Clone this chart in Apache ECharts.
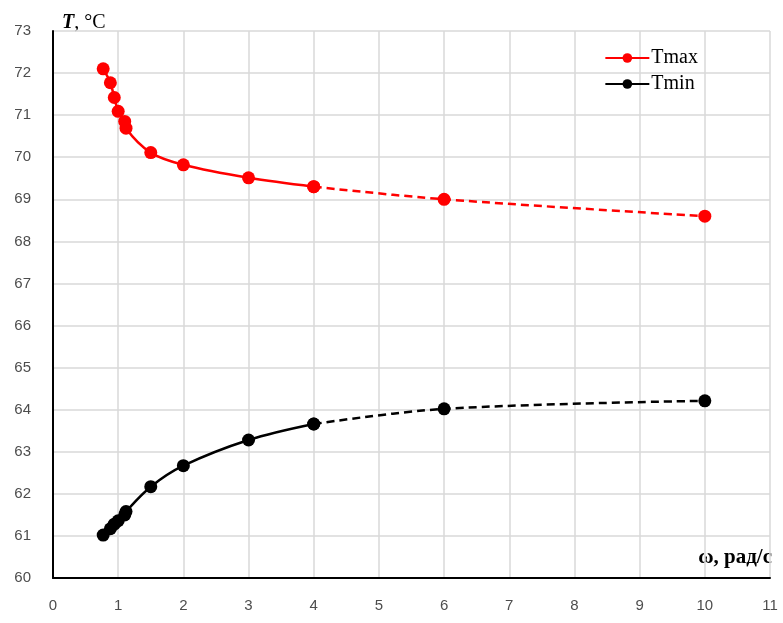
<!DOCTYPE html>
<html>
<head>
<meta charset="utf-8">
<script src="https://cdn.jsdelivr.net/npm/echarts@6/dist/echarts.min.js"></script>
<style>
  html, body { margin: 0; padding: 0; background: #fff; }
  #chart { width: 783px; height: 623px; }
</style>
</head>
<body>
<div id="chart"></div>
<script>
// angular velocity, rad/s
const omega = [0.77, 0.88, 0.94, 1.0, 1.1, 1.12, 1.5, 2, 3, 4, 6, 10];
// temperatures, °C
const tMax = [72.1, 71.77, 71.42, 71.09, 70.85, 70.69, 70.11, 69.82, 69.51, 69.3, 69.0, 68.6];
const tMin = [61.02, 61.17, 61.28, 61.36, 61.5, 61.58, 62.17, 62.67, 63.28, 63.66, 64.02, 64.21];
const xTicks = [0, 1, 2, 3, 4, 5, 6, 7, 8, 9, 10, 11];
const yTicks = [60, 61, 62, 63, 64, 65, 66, 67, 68, 69, 70, 71, 72, 73];
// measured points up to this ω are joined by a solid line, the rest dashed
const solidUpTo = 4;

function pairs(xs, ys, keep) {
  const out = [];
  xs.forEach((x, i) => { if (keep(x)) out.push([x, ys[i]]); });
  return out;
}

function makeSeries(name, color, ys) {
  const common = {
    name: name,
    type: 'line',
    smooth: 0.35,
    symbol: 'circle',
    symbolSize: 13,
    itemStyle: { color: color },
    z: 3
  };
  return [
    Object.assign({}, common, {
      data: pairs(omega, ys, x => x <= solidUpTo),
      lineStyle: { color: color, width: 2.5, type: 'solid' }
    }),
    Object.assign({}, common, {
      data: pairs(omega, ys, x => x >= solidUpTo),
      lineStyle: { color: color, width: 2.5, type: [8, 5] }
    })
  ];
}

const chart = echarts.init(document.getElementById('chart'));
const labelStyle = { color: '#4d4d4d', fontSize: 15, fontFamily: 'Liberation Sans, Arial, sans-serif' };

chart.setOption({
  animation: false,
  backgroundColor: '#fff',
  grid: { left: 53, right: 13, top: 31, bottom: 45, containLabel: false },
  legend: {
    orient: 'vertical',
    right: 80,
    top: 43,
    itemWidth: 44,
    itemHeight: 12,
    itemGap: 6,
    data: ['Tmax', 'Tmin'],
    textStyle: { color: '#000', fontSize: 20, fontFamily: 'Liberation Serif, Times New Roman, serif', padding: [0, 0, 0, -3] }
  },
  xAxis: {
    type: 'value',
    min: xTicks[0],
    max: xTicks[xTicks.length - 1],
    interval: 1,
    axisLine: { show: true, lineStyle: { color: '#000', width: 2 } },
    axisTick: { show: false },
    axisLabel: Object.assign({ margin: 20 }, labelStyle),
    splitLine: { show: true, lineStyle: { color: '#d9d9d9', width: 1.5 } }
  },
  yAxis: {
    type: 'value',
    min: yTicks[0],
    max: yTicks[yTicks.length - 1],
    interval: 1,
    axisLine: { show: true, lineStyle: { color: '#000', width: 2 } },
    axisTick: { show: false },
    axisLabel: Object.assign({ margin: 22 }, labelStyle),
    splitLine: { show: true, lineStyle: { color: '#d9d9d9', width: 1.5 } }
  },
  graphic: [
    {
      type: 'text',
      left: 62,
      top: 13,
      style: {
        text: '{t|T}{r|, °C}',
        rich: {
          t: { fontFamily: 'Liberation Serif, serif', fontWeight: 'bold', fontStyle: 'italic', fontSize: 20, fill: '#000' },
          r: { fontFamily: 'Liberation Serif, serif', fontSize: 20, fill: '#000' }
        }
      }
    },
    {
      type: 'text',
      right: 11,
      top: 547,
      style: {
        text: 'ω, рад/с',
        fontFamily: 'Liberation Serif, serif',
        fontWeight: 'bold',
        fontSize: 21,
        fill: '#000'
      }
    }
  ],
  series: [].concat(makeSeries('Tmax', '#ff0000', tMax), makeSeries('Tmin', '#000000', tMin))
});
</script>
</body>
</html>
